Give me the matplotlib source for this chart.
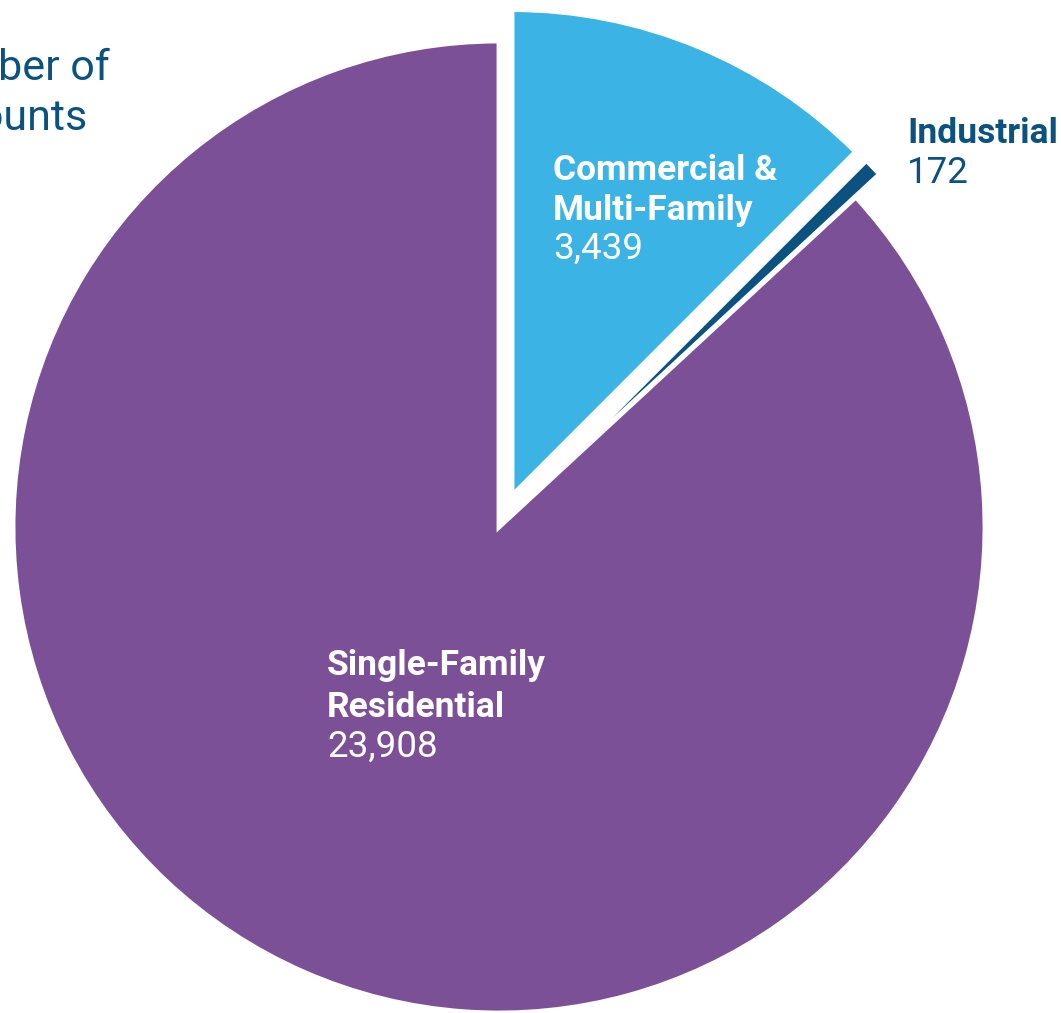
import matplotlib.pyplot as plt

# account counts by customer class
categories = ['Commercial &\nMulti-Family', 'Industrial', 'Single-Family\nResidential']
accounts = [3439, 172, 23908]
colors = ['#3BB3E4', '#0B5280', '#7B5097']
title = 'Number of\nAccounts'

W, H = 1061, 1013
plt.rcParams['font.family'] = ['Roboto', 'DejaVu Sans']

fig = plt.figure(figsize=(W / 100, H / 100), dpi=100)
ax = fig.add_axes([0, 0, 1, 1])
wedges, _ = ax.pie(accounts, colors=colors, startangle=90, counterclock=False,
                   center=(499, H - 527), radius=486, explode=[34, 33, 0],
                   wedgeprops=dict(edgecolor='white', linewidth=3.5))
ax.set_xlim(0, W)
ax.set_ylim(0, H)
ax.set_aspect('equal')
ax.axis('off')


def label(x, baselines, name, value, color):
    lines = name.split('\n') + [value]
    for i, (txt, yb) in enumerate(zip(lines, baselines)):
        bold = i < len(lines) - 1
        ax.text(x, H - yb, txt, color=color,
                fontsize=25.5 if bold else 26.5,
                fontweight='bold' if bold else 'normal',
                ha='left', va='baseline')


label(553, [180, 220, 259], categories[0], f'{accounts[0]:,}', 'white')
label(907, [143, 183], categories[1], f'{accounts[1]:,}', '#0B5280')
label(327, [675, 717, 757], categories[2], f'{accounts[2]:,}', 'white')

# title is partly cut off by the left edge, as in the original
t1, t2 = title.split('\n')
first = ax.text(110, H - 80, t1, color='#0B5280', fontsize=31, ha='right', va='baseline')
second = ax.text(0, H - 130, t2, color='#0B5280', fontsize=31, ha='left', va='baseline')
fig.canvas.draw()
bb = first.get_window_extent(fig.canvas.get_renderer())
second.set_x(bb.x0)

fig.savefig('out.png', dpi=100)
